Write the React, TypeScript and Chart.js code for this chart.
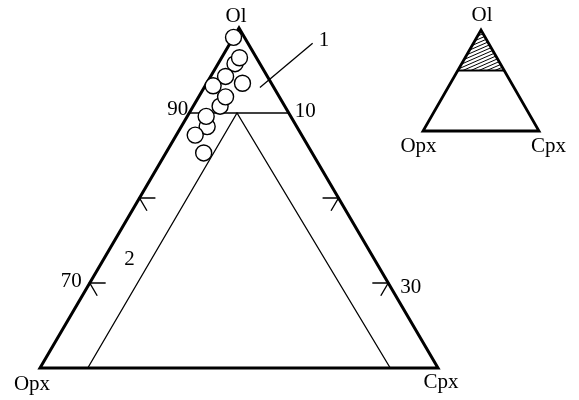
import React, { useEffect, useRef } from 'react';
import { Chart, registerables } from 'chart.js';

Chart.register(...registerables);

const W = 579;
const H = 400;

// ---- Data: sample compositions (Ol, Opx, Cpx %) ----
const olValues = [95.8, 88.4, 90.8, 98.9, 96.5, 94.3, 93.5, 93.2, 91.9, 89.6, 87.4, 85.3];
const opxValues = [2.5, 9.0, 6.5, 1.1, 1.7, 4.2, 2.9, 6.0, 5.4, 8.5, 10.7, 10.9];
const cpxValues = [1.7, 2.6, 2.7, 0.0, 1.8, 1.5, 3.6, 0.8, 2.7, 1.9, 1.9, 3.8];

// main diagram shows the Ol-rich part (Ol 60–100)
const OL_MIN = 60;
const FIELD_BOUNDARY_OL = 90; // field 1 above
const FIELD2_MIN_PX = 4.8; // field 2: Opx and Cpx above this
const tickOl = [70, 80];
const leftTickValues = [90, 70];
const leftTickLabels = ['90', '70'];
const rightTickValues = [10, 30];
const rightTickLabels = ['10', '30'];
const INSET_CUT_OL = 60;

// ---- layout (pixels) ----
const MAIN = { left: 40, right: 438, base: 368, apex: 28 };
const INSET = { left: 423, right: 539, base: 131, apex: 30 };
const FONT = '21px "Liberation Serif", "Times New Roman", serif';

const span = 100 - OL_MIN;
const main = (ol: number, cpx: number) => {
  const y = (ol - OL_MIN) / span;
  return { x: cpx / span + y / 2, y };
};
const inset = (ol: number, cpx: number) => {
  const y = ol / 100;
  return { x: cpx / 100 + y / 2, y };
};

const axisRange = (b: { left: number; right: number; base: number; apex: number }) => {
  const ux = b.right - b.left;
  const uy = b.base - b.apex;
  return {
    xmin: -b.left / ux,
    xmax: (W - b.left) / ux,
    ymin: -(H - b.base) / uy,
    ymax: b.base / uy,
  };
};

export default function App() {
  const ref = useRef<HTMLCanvasElement | null>(null);

  useEffect(() => {
    const canvas = ref.current;
    if (!canvas) return;

    // hatch pattern
    const pc = document.createElement('canvas');
    pc.width = 16;
    pc.height = 7;
    const g = pc.getContext('2d')!;
    g.strokeStyle = '#000';
    g.lineWidth = 1;
    for (const off of [-7, -3.5, 0, 3.5, 7]) {
      g.beginPath();
      g.moveTo(0, 7 + off);
      g.lineTo(16, off);
      g.stroke();
    }
    const pattern = canvas.getContext('2d')!.createPattern(pc, 'repeat');

    const mr = axisRange(MAIN);
    const ir = axisRange(INSET);

    const line = (data: any[], width: number, extra: any = {}) => ({
      type: 'scatter',
      data,
      showLine: true,
      borderColor: '#000',
      borderWidth: width,
      pointRadius: 0,
      fill: false,
      order: 2,
      ...extra,
    });

    const points = olValues.map((ol, i) => main(ol, cpxValues[i]));
    // opxValues complete the closure Ol + Opx + Cpx = 100
    void opxValues;

    const ticks: any[] = [];
    tickOl.forEach((v) => {
      ticks.push(line([main(v, 1.6), main(v, 0), main(v - 1.5, 1.5)], 1.4));
      const c = 100 - v;
      ticks.push(line([main(v, c - 1.6), main(v, c), main(v - 1.5, c)], 1.4));
    });

    const leaderStart = main(93.0, 5.6);
    const leaderEnd = main(98.2, 8.3);

    const datasets: any[] = [
      {
        type: 'scatter',
        data: points,
        pointRadius: 8,
        pointBackgroundColor: '#fff',
        pointBorderColor: '#000',
        pointBorderWidth: 1.4,
        showLine: false,
        order: 0,
      },
      line(
        [main(OL_MIN, 0), main(OL_MIN, span), main(100, 0), main(OL_MIN, 0), main(OL_MIN, span)],
        3,
        { order: 1 }
      ),
      line(
        [
          main(OL_MIN, FIELD2_MIN_PX),
          main(FIELD_BOUNDARY_OL, FIELD2_MIN_PX),
          main(OL_MIN, span - FIELD2_MIN_PX),
        ],
        1.3
      ),
      line([main(FIELD_BOUNDARY_OL, 0), main(FIELD_BOUNDARY_OL, 100 - FIELD_BOUNDARY_OL)], 1.6),
      line([leaderStart, leaderEnd], 1.3),
      ...ticks,
      // inset
      line([inset(INSET_CUT_OL, 0), inset(INSET_CUT_OL, 100 - INSET_CUT_OL), inset(100, 0)], 0, {
        xAxisID: 'x2',
        yAxisID: 'y2',
        fill: 'shape',
        backgroundColor: pattern,
        order: 10,
      }),
      line([inset(0, 0), inset(0, 100), inset(100, 0), inset(0, 0), inset(0, 100)], 2.8, {
        xAxisID: 'x2',
        yAxisID: 'y2',
        order: 1,
      }),
      line([inset(INSET_CUT_OL, 0), inset(INSET_CUT_OL, 100 - INSET_CUT_OL)], 2, {
        xAxisID: 'x2',
        yAxisID: 'y2',
      }),
    ];

    const mainLabels = [
      { text: 'Ol', at: main(100, 0), dx: -3, dy: -6, align: 'center' },
      { text: leftTickLabels[0], at: main(leftTickValues[0], 0), dx: -1, dy: 2, align: 'right' },
      { text: leftTickLabels[1], at: main(leftTickValues[1], 0), dx: -8, dy: 4, align: 'right' },
      { text: rightTickLabels[0], at: main(100 - rightTickValues[0], rightTickValues[0]), dx: 6, dy: 4, align: 'left' },
      { text: rightTickLabels[1], at: main(100 - rightTickValues[1], rightTickValues[1]), dx: 12, dy: 10, align: 'left' },
      { text: 'Opx', at: main(OL_MIN, 0), dx: -8, dy: 22, align: 'center' },
      { text: 'Cpx', at: main(OL_MIN, span), dx: 3, dy: 20, align: 'center' },
      { text: '1', at: leaderEnd, dx: 6, dy: 3, align: 'left' },
      { text: '2', at: main(73, 2.5), dx: 0, dy: 7, align: 'center' },
    ];
    const insetLabels = [
      { text: 'Ol', at: inset(100, 0), dx: 1, dy: -9, align: 'center' },
      { text: 'Opx', at: inset(0, 0), dx: -4.5, dy: 21, align: 'center' },
      { text: 'Cpx', at: inset(0, 100), dx: 9.5, dy: 21, align: 'center' },
    ];

    const textPlugin = {
      id: 'ternaryText',
      afterDraw(chart: any) {
        const ctx = chart.ctx;
        ctx.save();
        ctx.fillStyle = '#000';
        ctx.font = FONT;
        ctx.textBaseline = 'alphabetic';
        const draw = (list: any[], xs: any, ys: any) => {
          list.forEach((l) => {
            ctx.textAlign = l.align;
            ctx.fillText(l.text, xs.getPixelForValue(l.at.x) + l.dx, ys.getPixelForValue(l.at.y) + l.dy);
          });
        };
        draw(mainLabels, chart.scales.x, chart.scales.y);
        draw(insetLabels, chart.scales.x2, chart.scales.y2);
        ctx.restore();
      },
    };

    const bgPlugin = {
      id: 'whiteBg',
      beforeDraw(chart: any) {
        const ctx = chart.ctx;
        ctx.save();
        ctx.fillStyle = '#fff';
        ctx.fillRect(0, 0, chart.width, chart.height);
        ctx.restore();
      },
    };

    const chart = new Chart(canvas, {
      type: 'scatter',
      data: { datasets },
      options: {
        animation: false,
        responsive: false,
        devicePixelRatio: 1,
        layout: { padding: 0, autoPadding: false },
        plugins: { legend: { display: false }, tooltip: { enabled: false } },
        elements: { line: { borderJoinStyle: 'miter', tension: 0 } },
        scales: {
          x: { type: 'linear', min: mr.xmin, max: mr.xmax, display: false },
          y: { type: 'linear', min: mr.ymin, max: mr.ymax, display: false },
          x2: { type: 'linear', axis: 'x', min: ir.xmin, max: ir.xmax, display: false },
          y2: { type: 'linear', axis: 'y', min: ir.ymin, max: ir.ymax, display: false },
        },
      } as any,
      plugins: [bgPlugin, textPlugin],
    } as any);

    return () => chart.destroy();
  }, []);

  return (
    <div style={{ position: 'fixed', left: 0, top: 0, width: W, height: H, background: '#fff' }}>
      <canvas ref={ref} width={W} height={H} style={{ display: 'block' }} />
    </div>
  );
}
